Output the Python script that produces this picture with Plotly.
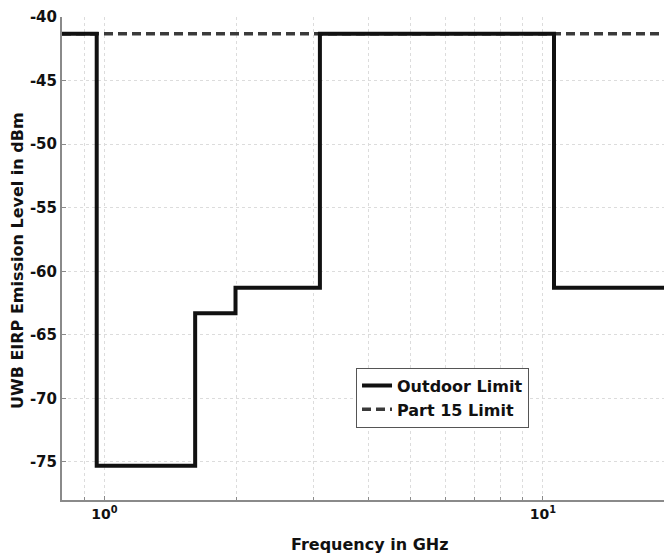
import math

import plotly.graph_objects as go

# FCC UWB outdoor mask, band edges in GHz and EIRP levels in dBm
FREQ_EDGES_GHZ = [0.8, 0.96, 1.61, 1.99, 3.1, 10.6, 19.7]
OUTDOOR_LEVEL_DBM = [-41.3, -75.3, -63.3, -61.3, -41.3, -61.3]
PART15_FREQ_GHZ = [0.8, 19.7]
PART15_LEVEL_DBM = [-41.3, -41.3]

Y_TICKS = [-75, -70, -65, -60, -55, -50, -45, -40]
X_TICKS = [1, 10]
X_TICK_TEXT = ["<b>10<sup>0</sup></b>", "<b>10<sup>1</sup></b>"]
X_MINOR = [0.9, 2, 3, 4, 5, 6, 7, 8, 9, 20]

FONT = "DejaVu Sans, Liberation Sans, sans-serif"
GRID = "#dcdcdc"
AXIS = "#8a8a8a"

figure = go.Figure()

figure.add_trace(
    go.Scatter(
        x=PART15_FREQ_GHZ,
        y=PART15_LEVEL_DBM,
        mode="lines",
        name="<b>Part 15 Limit</b>",
        line={"color": "#3a3a3a", "width": 3.5, "dash": "9px,5px"},
    )
)
figure.add_trace(
    go.Scatter(
        x=FREQ_EDGES_GHZ,
        y=OUTDOOR_LEVEL_DBM + [OUTDOOR_LEVEL_DBM[-1]],
        mode="lines",
        line_shape="hv",
        name="<b>Outdoor Limit</b>",
        line={"color": "#111111", "width": 4},
    )
)

# axis titles placed by hand, the page body adds an 8px offset
figure.add_annotation(
    text="<b>UWB EIRP Emission Level in dBm</b>",
    xref="paper",
    yref="paper",
    x=-0.072,
    y=0.495,
    xanchor="center",
    yanchor="middle",
    textangle=-90,
    showarrow=False,
    font={"size": 16, "family": FONT},
)
figure.add_annotation(
    text="<b>Frequency in GHz</b>",
    xref="paper",
    yref="paper",
    x=0.505,
    y=-0.093,
    xanchor="center",
    yanchor="middle",
    showarrow=False,
    font={"size": 16, "family": FONT},
)

figure.update_layout(
    width=664,
    height=548,
    margin={"l": 54, "r": 0, "t": 9, "b": 56},
    paper_bgcolor="white",
    plot_bgcolor="white",
    font={"family": FONT, "color": "#111111", "size": 15},
    showlegend=True,
    legend={
        "x": 0.482,
        "y": 0.274,
        "xanchor": "left",
        "yanchor": "top",
        "traceorder": "reversed",
        "bgcolor": "white",
        "bordercolor": "#555555",
        "borderwidth": 1,
        "font": {"size": 16, "family": FONT},
        "tracegroupgap": 0,
    },
    xaxis={
        "type": "log",
        "range": [math.log10(PART15_FREQ_GHZ[0]), math.log10(PART15_FREQ_GHZ[1])],
        "automargin": False,
        "tickvals": X_TICKS,
        "ticktext": X_TICK_TEXT,
        "tickfont": {"size": 14, "family": FONT},
        "ticklabeloverflow": "allow",
        "ticks": "inside",
        "ticklen": 4,
        "tickcolor": AXIS,
        "showline": True,
        "linecolor": AXIS,
        "linewidth": 2,
        "mirror": False,
        "showgrid": True,
        "gridcolor": GRID,
        "griddash": "dot",
        "gridwidth": 1,
        "zeroline": False,
        "minor": {
            "tickvals": X_MINOR,
            "showgrid": True,
            "gridcolor": GRID,
            "griddash": "dot",
            "ticks": "inside",
            "ticklen": 3,
            "tickcolor": AXIS,
        },
    },
    yaxis={
        "range": [-78, -39.99],
        "automargin": False,
        "tickvals": Y_TICKS,
        "ticktext": [f"<b>{v}</b>" for v in Y_TICKS],
        "tickfont": {"size": 15, "family": FONT},
        "ticklabeloverflow": "allow",
        "ticks": "inside",
        "ticklen": 4,
        "tickcolor": AXIS,
        "showline": True,
        "linecolor": AXIS,
        "linewidth": 2,
        "mirror": False,
        "showgrid": True,
        "gridcolor": GRID,
        "griddash": "dot",
        "gridwidth": 1,
        "zeroline": False,
    },
)

figure.write_html("out.html")
